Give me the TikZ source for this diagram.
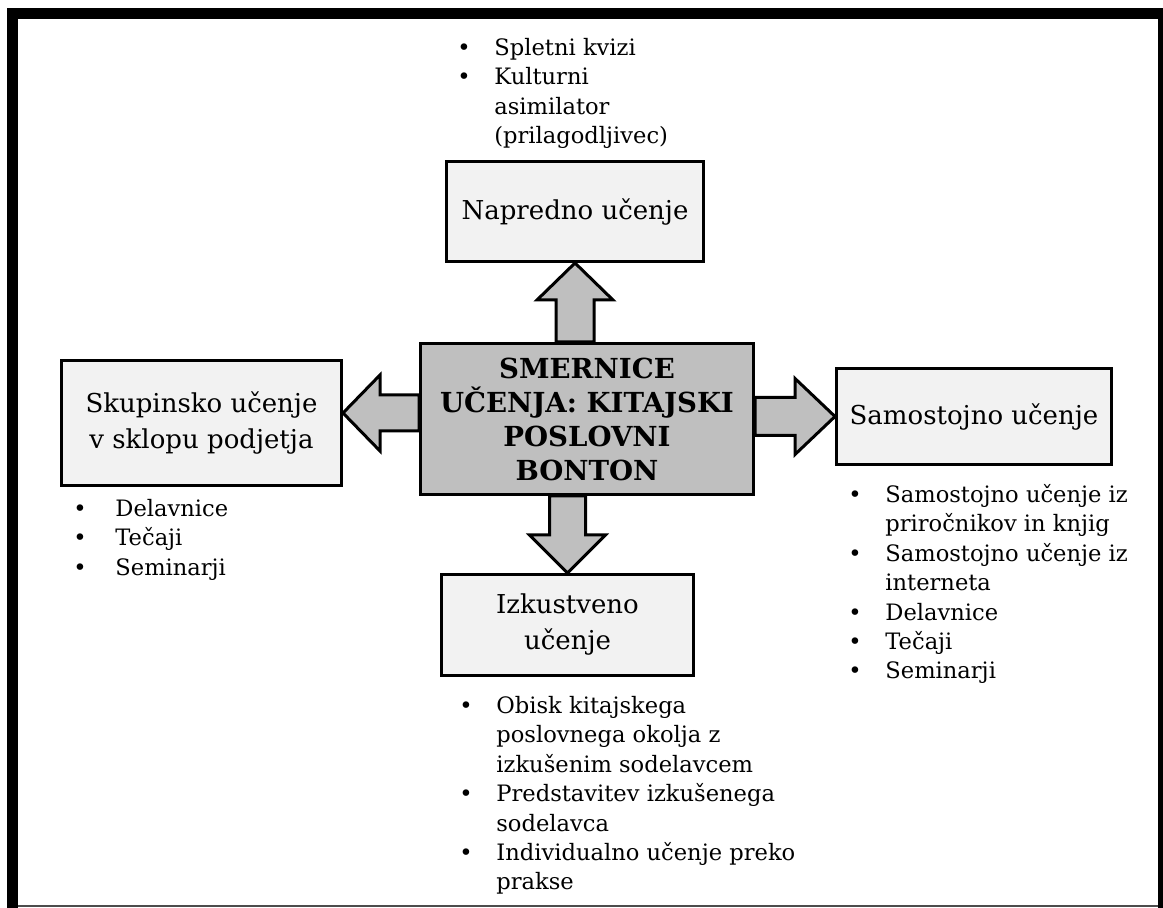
\documentclass[tikz,border=0pt]{standalone}
\usepackage{fontspec}
\setmainfont{DejaVu Serif}
\usetikzlibrary{calc}
\definecolor{boxgray}{HTML}{F2F2F2}
\definecolor{arrowgray}{HTML}{BFBFBF}
\newcommand{\blt}{\makebox[18.5pt][l]{\textbullet}}
\newcommand{\nobl}{\hspace*{18.5pt}}

\begin{document}
\begin{tikzpicture}[x=0.5pt, y=-0.5pt,
  box/.style={rectangle, draw, line width=1.5pt, fill=boxgray, align=center, inner sep=0pt, font=\fontsize{13}{18}\selectfont},
  mainbox/.style={box, fill=arrowgray, font=\fontsize{13.8}{17}\selectfont\bfseries},
  bullets/.style={align=left, inner sep=0pt, anchor=north west, font=\fontsize{11.3}{14.7}\selectfont},
  blockarrow/.style={draw, line width=1.5pt, fill=arrowgray, line join=miter}]
  \useasboundingbox (0,0) rectangle (1163,908);
  % frame
  \draw[line width=5.5pt] (12.5,908) -- (12.5,13.5) -- (1163.5,13.5) -- (1163.5,908);
  \draw[black!70, line width=0.7pt] (18,906) -- (1158,906);

  \node[mainbox, minimum width=166.5pt, minimum height=75.5pt] (center) at (587,419) {SMERNICE\\ UČENJA: KITAJSKI\\ POSLOVNI\\ BONTON};
  \node[box, minimum width=128.5pt, minimum height=50pt] (napredno) at (575,211.5) {Napredno učenje};
  \node[box, minimum width=140pt, minimum height=62.5pt] (skupinsko) at (201.5,423) {Skupinsko učenje\\ v sklopu podjetja};
  \node[box, minimum width=137.5pt, minimum height=48pt] (samostojno) at (974,416.5) {Samostojno učenje};
  \node[box, minimum width=126pt, minimum height=50.5pt] (izkustveno) at (567.5,625) {Izkustveno\\ učenje};

  % Lists
  \node[bullets] (toplist) at (457,38) {\blt Spletni kvizi\\ \blt Kulturni\\ \nobl asimilator\\ \nobl (prilagodljivec)};
  \node[bullets] (leftlist) at (73,499) {\makebox[21pt][l]{\textbullet}Delavnice\\ \makebox[21pt][l]{\textbullet}Tečaji\\ \makebox[21pt][l]{\textbullet}Seminarji};
  \node[bullets] (rightlist) at (848,484) {\blt Samostojno učenje iz\\ \nobl priročnikov in knjig\\ \blt Samostojno učenje iz\\ \nobl interneta\\ \blt Delavnice\\ \blt Tečaji\\ \blt Seminarji};
  \node[bullets] (bottomlist) at (459,696) {\blt Obisk kitajskega\\ \nobl poslovnega okolja z\\ \nobl izkušenim sodelavcem\\ \blt Predstavitev izkušenega\\ \nobl sodelavca\\ \blt Individualno učenje preko\\ \nobl prakse};

  % Arrows
  \coordinate (lefttip) at ($(skupinsko.east)+(0,-10)$);
  \draw[blockarrow] (napredno.south) -- ++(38,37) -- ++(-19,0) -- ($(napredno.south |- center.north)+(19,0)$) -- ++(-38,0) -- ($(napredno.south)+(-19,37)$) -- ++(-19,0) -- cycle;
  \draw[blockarrow] (izkustveno.north) -- ++(38,-38) -- ++(-20,0) -- ($(izkustveno.north |- center.south)+(18,0)$) -- ++(-36,0) -- ($(izkustveno.north)+(-18,-38)$) -- ++(-20,0) -- cycle;
  \draw[blockarrow] (lefttip) -- ++(37,-38) -- ++(0,20) -- ($(lefttip -| center.west)+(0,-18)$) -- ++(0,36) -- ($(lefttip)+(37,18)$) -- ++(0,20) -- cycle;
  \draw[blockarrow] (samostojno.west) -- ++(-40,-38) -- ++(0,19) -- ($(samostojno.west -| center.east)+(0,-19)$) -- ++(0,38) -- ($(samostojno.west)+(-40,19)$) -- ++(0,19) -- cycle;
\end{tikzpicture}
\end{document}
